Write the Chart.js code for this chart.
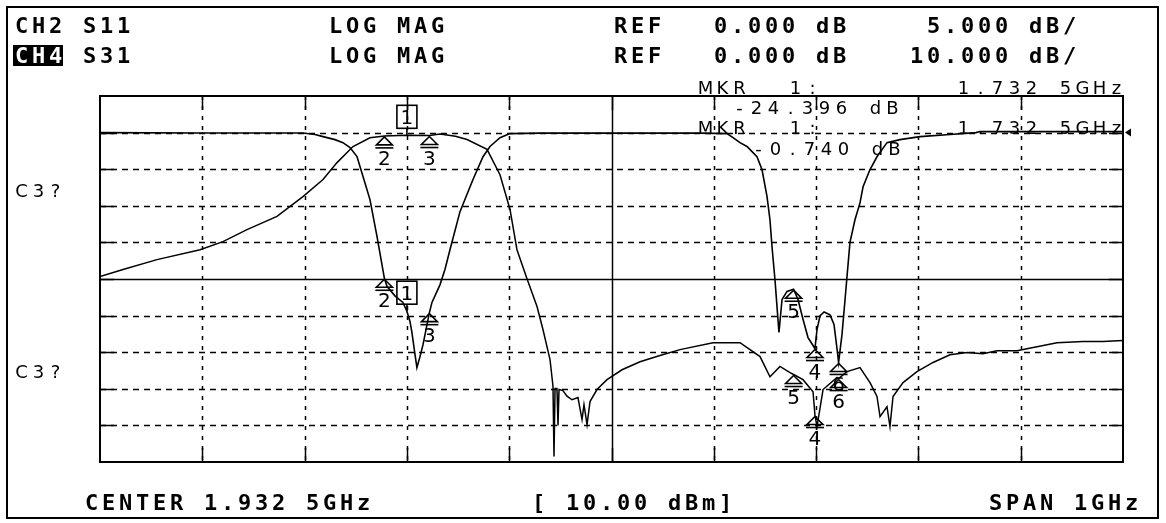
<!DOCTYPE html>
<html>
<head>
<meta charset="utf-8">
<script src="https://cdn.jsdelivr.net/npm/chart.js@4.4.0/dist/chart.umd.min.js"></script>
<style>html,body{margin:0;padding:0;background:#fff}</style>
</head>
<body>
<canvas id="c" width="1166" height="523"></canvas>
<script>
// sweep: center 1.9325 GHz, span 1 GHz
var fStart = 1.4325, fStop = 2.4325;

// CH4 S31, 10 dB/div, ref 0 dB
var s31Freq = [1.4325,1.4550,1.4882,1.5303,1.5527,1.5762,1.6055,1.6309,1.6505,1.6642,1.6798,1.6964,1.7105,1.7325,1.7545,1.7649,1.7800,1.7913,1.8108,1.8235,1.8333,1.8401,1.8499,1.8597,1.8655,1.8724,1.8753,1.8763,1.8773,1.8792,1.8802,1.8812,1.8850,1.8890,1.8939,1.8997,1.9037,1.9056,1.9086,1.9115,1.9183,1.9281,1.9428,1.9604,1.9799,1.9995,2.0317,2.0581,2.0679,2.0777,2.0874,2.0972,2.1070,2.1105,2.1197,2.1295,2.1314,2.1334,2.1393,2.1529,2.1545,2.1627,2.1754,2.1852,2.1920,2.1950,2.2018,2.2047,2.2077,2.2175,2.2311,2.2468,2.2634,2.2800,2.2956,2.3093,2.3289,2.3484,2.3680,2.3934,2.4129,2.4325];
var s31Db = [-39.3,-37.4,-34.7,-32.0,-29.8,-26.5,-22.9,-17.5,-12.8,-8.2,-3.8,-1.4,-0.9,-0.74,-0.8,-0.4,-1.0,-1.9,-4.6,-11.5,-21.0,-32.0,-39.9,-47.5,-53.8,-62.0,-69.3,-88.5,-69.9,-69.9,-80.0,-70.2,-70.5,-72.0,-73.0,-72.4,-78.4,-74.3,-79.8,-73.5,-70.2,-67.5,-64.8,-62.6,-60.9,-59.3,-57.4,-57.4,-59.3,-61.2,-66.7,-63.9,-65.6,-66.1,-67.5,-70.8,-77.3,-80.3,-70.2,-66.9,-67.2,-65.3,-64.2,-68.3,-72.1,-77.6,-74.9,-80.3,-72.1,-68.3,-65.3,-62.8,-60.7,-60.1,-60.4,-59.6,-59.6,-58.5,-57.4,-57.1,-57.1,-56.8];

// CH2 S11, 5 dB/div, ref 0 dB
var s11Freq = [1.4325,1.5303,1.6309,1.6427,1.6505,1.6622,1.6700,1.6769,1.6837,1.6896,1.6964,1.7033,1.7105,1.7130,1.7208,1.7286,1.7325,1.7355,1.7374,1.7404,1.7423,1.7453,1.7482,1.7545,1.7570,1.7648,1.7697,1.7746,1.7844,1.7971,1.8069,1.8137,1.8235,1.8333,1.8626,1.9212,2.0190,2.0454,2.0513,2.0581,2.0649,2.0699,2.0747,2.0796,2.0845,2.0874,2.0894,2.0923,2.0943,2.0962,2.0992,2.1041,2.1105,2.1148,2.1197,2.1246,2.1314,2.1334,2.1364,2.1403,2.1461,2.1500,2.1530,2.1545,2.1578,2.1608,2.1627,2.1656,2.1705,2.1754,2.1784,2.1852,2.1920,2.2018,2.2145,2.2341,2.2634,2.2888,2.2927,2.4325];
var s11Db = [0,-0.05,-0.05,-0.27,-0.55,-0.96,-1.37,-2.05,-3.28,-6.0,-9.15,-14.2,-19.9,-21.0,-22.3,-23.2,-24.396,-25.8,-27.3,-30.3,-32.1,-30.6,-29.0,-24.6,-23.2,-20.8,-18.7,-16.0,-10.8,-6.4,-3.3,-1.9,-0.7,-0.14,-0.07,-0.07,-0.07,-0.14,-0.68,-1.37,-1.9,-2.6,-3.28,-5.05,-8.7,-11.9,-15.6,-20.1,-23.8,-27.3,-22.8,-21.7,-21.4,-22.8,-25.5,-28.0,-29.5,-26.9,-25.0,-24.5,-24.9,-26.2,-29.6,-31.4,-27.6,-22.8,-19.7,-15.0,-11.9,-9.6,-7.4,-5.05,-3.3,-1.37,-0.96,-0.55,-0.27,0,0.14,0.14];

// markers (coupled between channels)
var mkrLabel = ['1','2','3','4','5','6'];
var mkrFreq = [1.7325,1.7105,1.7545,2.1314,2.1105,2.1545];
var mkrS31Db = [-0.74,-0.9,-0.8,-77.3,-66.1,-67.2];
var mkrS11Db = [-24.396,-19.9,-24.6,-29.5,-21.4,-31.4];

// graticule
var gridFreq = [1.4325,1.5325,1.6325,1.7325,1.8325,1.9325,2.0325,2.1325,2.2325,2.3325,2.4325];
var gridS31 = [10,0,-10,-20,-30,-40,-50,-60,-70,-80,-90];

var BOLD = "bold 22px 'DejaVu Sans Mono'";
var THIN = "18px 'DejaVu Sans'";

function boldText(ctx, str, x, y, color) {
	ctx.font = BOLD;
	ctx.fillStyle = color || '#000';
	ctx.textAlign = 'left';
	ctx.textBaseline = 'alphabetic';
	for (var i = 0; i < str.length; i++) ctx.fillText(str[i], x + i * 17, y);
}

function thinText(ctx, str, x, y) {
	ctx.font = THIN;
	ctx.fillStyle = '#000';
	ctx.textAlign = 'center';
	ctx.textBaseline = 'alphabetic';
	for (var i = 0; i < str.length; i++) ctx.fillText(str[i], x + i * 17 + 6.5, y);
}

function drawMarker(ctx, label, px, py) {
	ctx.strokeStyle = '#000';
	ctx.lineWidth = 1.6;
	ctx.setLineDash([]);
	ctx.font = "20px 'DejaVu Sans'";
	ctx.fillStyle = '#000';
	ctx.textAlign = 'center';
	if (label === '1') {
		ctx.strokeRect(px - 10, py - 30, 20, 23);
		ctx.beginPath(); ctx.moveTo(px, py - 7); ctx.lineTo(px, py); ctx.stroke();
		ctx.fillText(label, px, py - 11);
	} else {
		ctx.beginPath();
		ctx.moveTo(px, py + 1); ctx.lineTo(px - 8, py + 9); ctx.lineTo(px + 8, py + 9); ctx.closePath();
		ctx.stroke();
		ctx.beginPath(); ctx.moveTo(px - 9, py + 12); ctx.lineTo(px + 9, py + 12); ctx.stroke();
		ctx.fillText(label, px, py + 29);
	}
}

var analyzerPlugin = {
	id: 'analyzer',
	beforeDatasetsDraw: function(chart) {
		var ctx = chart.ctx, a = chart.chartArea;
		var xs = chart.scales.x, ys = chart.scales.y;
		ctx.save();
		ctx.strokeStyle = '#000';
		// outer border
		ctx.lineWidth = 2;
		ctx.strokeRect(7, 7, 1151, 511);
		// horizontal lines
		ctx.lineWidth = 1.5;
		gridS31.forEach(function(v, i) {
			if (i === 0 || i === gridS31.length - 1) return;
			var y = Math.round(ys.getPixelForValue(v)) + 0.5;
			ctx.setLineDash(v === -40 ? [] : [6, 5]);
			ctx.beginPath(); ctx.moveTo(a.left, y); ctx.lineTo(a.right, y); ctx.stroke();
			ctx.setLineDash([]);
			ctx.beginPath();
			ctx.moveTo(a.left, y); ctx.lineTo(a.left + 14, y);
			ctx.moveTo(a.right - 14, y); ctx.lineTo(a.right, y);
			ctx.stroke();
		});
		// vertical lines
		gridFreq.forEach(function(f, i) {
			if (i === 0 || i === gridFreq.length - 1) return;
			var x = Math.round(xs.getPixelForValue(f)) + 0.5;
			ctx.setLineDash(i === 5 ? [] : [4, 6]);
			ctx.beginPath(); ctx.moveTo(x, a.top); ctx.lineTo(x, a.bottom); ctx.stroke();
			ctx.setLineDash([]);
			ctx.beginPath();
			ctx.moveTo(x, a.top); ctx.lineTo(x, a.top + 14);
			ctx.moveTo(x, a.bottom - 14); ctx.lineTo(x, a.bottom);
			ctx.stroke();
		});
		ctx.lineWidth = 2;
		ctx.strokeRect(a.left, a.top, a.right - a.left, a.bottom - a.top);
		ctx.restore();
	},
	afterDatasetsDraw: function(chart) {
		var ctx = chart.ctx, a = chart.chartArea;
		var xs = chart.scales.x, ys = chart.scales.y, ys2 = chart.scales.y2;
		ctx.save();
		// markers
		for (var i = 0; i < mkrLabel.length; i++) {
			var px = xs.getPixelForValue(mkrFreq[i]);
			drawMarker(ctx, mkrLabel[i], px, ys.getPixelForValue(mkrS31Db[i]));
			drawMarker(ctx, mkrLabel[i], px, ys2.getPixelForValue(mkrS11Db[i]));
		}
		// reference position arrow
		var ry = ys2.getPixelForValue(0);
		ctx.fillStyle = '#000';
		ctx.beginPath();
		ctx.moveTo(a.right + 2, ry); ctx.lineTo(a.right + 8, ry - 4); ctx.lineTo(a.right + 8, ry + 4); ctx.closePath();
		ctx.fill();

		// header
		boldText(ctx, 'CH2', 15, 33);
		boldText(ctx, 'S11', 83, 33);
		boldText(ctx, 'LOG MAG', 329, 33);
		boldText(ctx, 'REF', 614, 33);
		boldText(ctx, '0.000 dB', 714, 33);
		boldText(ctx, '5.000 dB/', 927, 33);
		ctx.fillStyle = '#000';
		ctx.fillRect(13, 45, 50, 21);
		boldText(ctx, 'CH4', 15, 63, '#fff');
		boldText(ctx, 'S31', 83, 63);
		boldText(ctx, 'LOG MAG', 329, 63);
		boldText(ctx, 'REF', 614, 63);
		boldText(ctx, '0.000 dB', 714, 63);
		boldText(ctx, '10.000 dB/', 910, 63);

		// marker readouts
		thinText(ctx, 'MKR', 699, 94);
		thinText(ctx, '1:', 789, 94);
		thinText(ctx, '1.732 5GHz', 957, 94);
		thinText(ctx, '-24.396 dB', 733, 114);
		thinText(ctx, 'MKR', 699, 134);
		thinText(ctx, '1:', 789, 134);
		thinText(ctx, '1.732 5GHz', 957, 134);
		thinText(ctx, '-0.740 dB', 752, 155);

		thinText(ctx, 'C3?', 15, 197);
		thinText(ctx, 'C3?', 15, 378);

		// footer
		boldText(ctx, 'CENTER 1.932 5GHz', 85, 510);
		boldText(ctx, '[ 10.00 dBm]', 532, 510);
		boldText(ctx, 'SPAN 1GHz', 989, 510);
		ctx.restore();
	}
};

function pts(fs, vs) {
	return fs.map(function(f, i) { return {x: f, y: vs[i]}; });
}

var chart = new Chart(document.getElementById('c').getContext('2d'), {
	type: 'line',
	data: {
		datasets: [
			{label: 'S31', data: pts(s31Freq, s31Db), yAxisID: 'y', borderColor: '#000', borderWidth: 1.5, pointRadius: 0, tension: 0, fill: false},
			{label: 'S11', data: pts(s11Freq, s11Db), yAxisID: 'y2', borderColor: '#000', borderWidth: 1.6, pointRadius: 0, tension: 0, fill: false}
		]
	},
	options: {
		responsive: false,
		animation: false,
		devicePixelRatio: 1,
		events: [],
		layout: {padding: {left: 100, right: 43, top: 96, bottom: 61}},
		plugins: {legend: {display: false}, tooltip: {enabled: false}},
		scales: {
			x: {type: 'linear', min: fStart, max: fStop, display: false},
			y: {min: -90, max: 10, display: false},
			y2: {min: -45, max: 5, display: false}
		}
	},
	plugins: [analyzerPlugin]
});
</script>
</body>
</html>
